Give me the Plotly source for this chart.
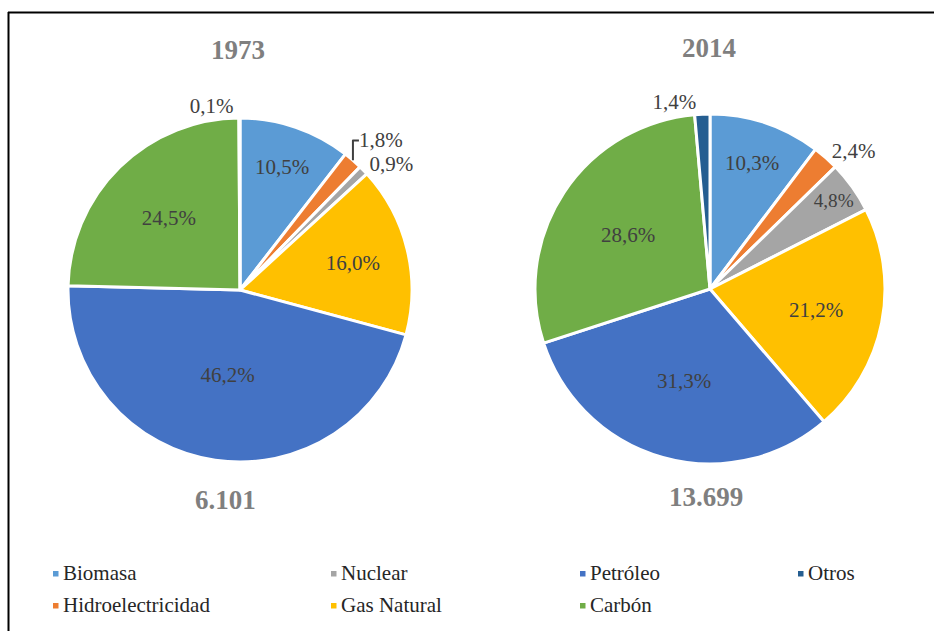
import plotly.graph_objects as go

W, H = 934, 631

labels = ["Biomasa", "Hidroelectricidad", "Nuclear", "Gas Natural", "Petróleo", "Carbón", "Otros"]
colors = ["#5B9BD5", "#ED7D31", "#A5A5A5", "#FFC000", "#4472C4", "#70AD47", "#255E91"]
vals_1973 = [10.5, 1.8, 0.9, 16.0, 46.2, 24.5, 0.1]
vals_2014 = [10.3, 2.4, 4.8, 21.2, 31.3, 28.6, 1.4]
years = ["1973", "2014"]
totals = ["6.101", "13.699"]

# legend laid out in 4 columns x 2 rows, column order as in the picture
legend_order = ["Biomasa", "Nuclear", "Petróleo", "Otros",
                "Hidroelectricidad", "Gas Natural", "Carbón"]

SERIF = "Liberation Serif"


def px(x):
    return x / W


def py(y):
    return 1 - y / H


def pie_text(vals):
    txt = [("%.1f%%" % v).replace(".", ",") for v in vals]
    pos = ["inside" if v >= 4 else "outside" for v in vals]
    return txt, pos


fig = go.Figure()

# (cx, cy, r) in pixels
geoms = [(240, 290, 172), (710, 289, 175)]
for vals, (cx, cy, r) in zip([vals_1973, vals_2014], geoms):
    txt, pos = pie_text(vals)
    fig.add_trace(go.Pie(
        labels=labels,
        values=vals,
        sort=False,
        direction="clockwise",
        rotation=0,
        marker=dict(colors=colors, line=dict(color="white", width=3)),
        text=txt,
        textinfo="text",
        textposition=pos,
        insidetextorientation="horizontal",
        textfont=dict(family=SERIF, size=21, color="#404040"),
        showlegend=False,
        hoverinfo="label+percent",
        domain=dict(x=[px(cx - r), px(cx + r)], y=[py(cy + r), py(cy - r)]),
    ))


def label(text, x, y, size, color, xanchor="center"):
    fig.add_annotation(text=text, x=px(x), y=py(y), xref="paper", yref="paper",
                       xanchor=xanchor, yanchor="middle", showarrow=False,
                       font=dict(family=SERIF, size=size, color=color))


title_pos = [(238, 50), (709, 48)]
total_pos = [(225, 500), (706, 497)]
for yr, tot, tp, bp in zip(years, totals, title_pos, total_pos):
    label("<b>%s</b>" % yr, tp[0], tp[1], 27, "#7F7F7F")
    label("<b>%s</b>" % tot, bp[0], bp[1], 27, "#7F7F7F")

# legend
col_x = [53, 331, 580, 798]
row_y = [573, 605]
for i, name in enumerate(legend_order):
    c = colors[labels.index(name)]
    x0 = col_x[i % 4]
    y0 = row_y[i // 4]
    fig.add_shape(type="rect", xref="paper", yref="paper",
                  x0=px(x0), x1=px(x0 + 5.5), y0=py(y0 + 3.5), y1=py(y0 - 2),
                  fillcolor=c, line=dict(width=0))
    label(name, x0 + 8, y0, 21, "#262626", xanchor="left")

# frame
fig.add_shape(type="line", xref="paper", yref="paper", x0=px(8), x1=1, y0=py(12.5), y1=py(12.5),
              line=dict(color="black", width=2))
fig.add_shape(type="line", xref="paper", yref="paper", x0=px(8.5), x1=px(8.5), y0=py(12), y1=0,
              line=dict(color="black", width=2))

fig.update_layout(
    width=W, height=H,
    margin=dict(l=0, r=0, t=0, b=0),
    paper_bgcolor="white",
    plot_bgcolor="white",
    font=dict(family=SERIF),
)

fig.write_html("out.html", config={"displayModeBar": False},
               post_script="document.body.style.margin='0';")
